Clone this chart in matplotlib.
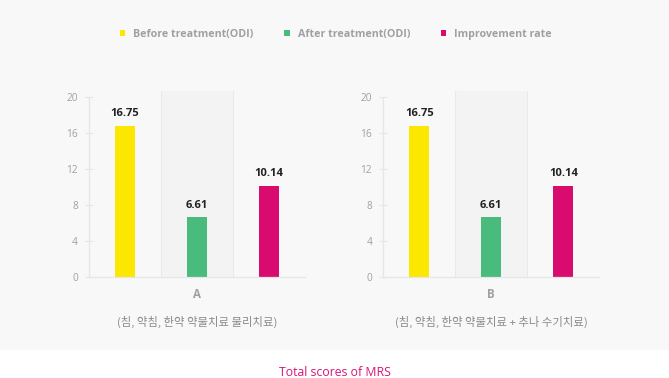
import matplotlib
matplotlib.use("Agg")
import matplotlib.pyplot as plt
from matplotlib.patches import Rectangle

series = ["Before treatment(ODI)", "After treatment(ODI)", "Improvement rate"]
colors = ["#fbe700", "#48bb7d", "#d90b6e"]
groups = ["A", "B"]
subtitles = ["(침, 약침, 한약 약물치료 물리치료)", "(침, 약침, 한약 약물치료 + 추나 수기치료)"]
values_A = [16.75, 6.61, 10.14]
values_B = [16.75, 6.61, 10.14]
yticks = [0, 4, 8, 12, 16, 20]
title = "Total scores of MRS"

W, H = 669, 378
fig = plt.figure(figsize=(W / 100, H / 100), dpi=100)
fig.patch.set_facecolor("white")
fig.patches.append(Rectangle((0, 28 / H), 1, 1 - 28 / H, transform=fig.transFigure,
                             facecolor="#f8f8f8", edgecolor="none", zorder=-10))

LAT = ["Open Sans", "DejaVu Sans"]
KR = ["Noto Sans CJK KR", "DejaVu Sans"]
grey = "#a0a0a0"

lefts = [89, 383.3]
bottom_px, top_px = 277, 91
width_px = 216
handles = None
for gi, (vals, left) in enumerate(zip([values_A, values_B], lefts)):
    ax = fig.add_axes([left / W, (H - bottom_px) / H, width_px / W, (bottom_px - top_px) / H])
    ax.set_facecolor("none")
    x = list(range(len(vals)))
    ax.axvspan(0.5, 1.5, facecolor="#f3f3f3", edgecolor="none", zorder=0)
    for xv in (0.5, 1.5):
        ax.axvline(xv, color="#e9e9e9", linewidth=0.8, zorder=0.5)
    bars = ax.bar(x, vals, width=0.28, color=colors, zorder=2)
    if handles is None:
        handles = bars.patches
    for xi, v in zip(x, vals):
        ax.text(xi, v + 0.75, f"{v:.2f}", ha="center", va="bottom", fontsize=8,
                fontweight="bold", color="#222222", family=LAT)
    ax.set_xlim(-0.5, 2.5)
    ax.set_ylim(0, 20.65)
    ax.set_yticks(yticks)
    ax.set_yticklabels([str(t) for t in yticks], fontsize=7.3, color=grey, family=LAT)
    ax.tick_params(axis="y", direction="inout", length=6, width=0.8, color="#e6e6e6", pad=5)
    ax.set_xticks([])
    for s in ["top", "right"]:
        ax.spines[s].set_visible(False)
    ax.spines["left"].set_bounds(0, 20)
    for s in ["left", "bottom"]:
        ax.spines[s].set_color("#e6e6e6")
        ax.spines[s].set_linewidth(0.9)
    cx = (left + width_px / 2) / W
    fig.text(cx, 1 - 295 / H, groups[gi], ha="center", va="center", fontsize=8.3,
             fontweight="bold", color=grey, family=LAT)
    fig.text(cx, 1 - 322 / H, subtitles[gi], ha="center", va="center", fontsize=8.2,
             color="#8a8a8a", family=KR)

fig.legend(handles, series, loc="center", bbox_to_anchor=(0.502, 1 - 34 / H), ncol=3,
           frameon=False, handlelength=0.5, handleheight=0.5, handletextpad=0.75,
           columnspacing=2.9, prop={"family": LAT, "size": 7.7, "weight": "bold"},
           labelcolor=grey)

fig.text(334.5 / W, 1 - 372 / H, title, ha="center", va="center", fontsize=8.8,
         color="#d6157a", family=LAT)

fig.savefig("out.png", dpi=100, facecolor=fig.get_facecolor())
